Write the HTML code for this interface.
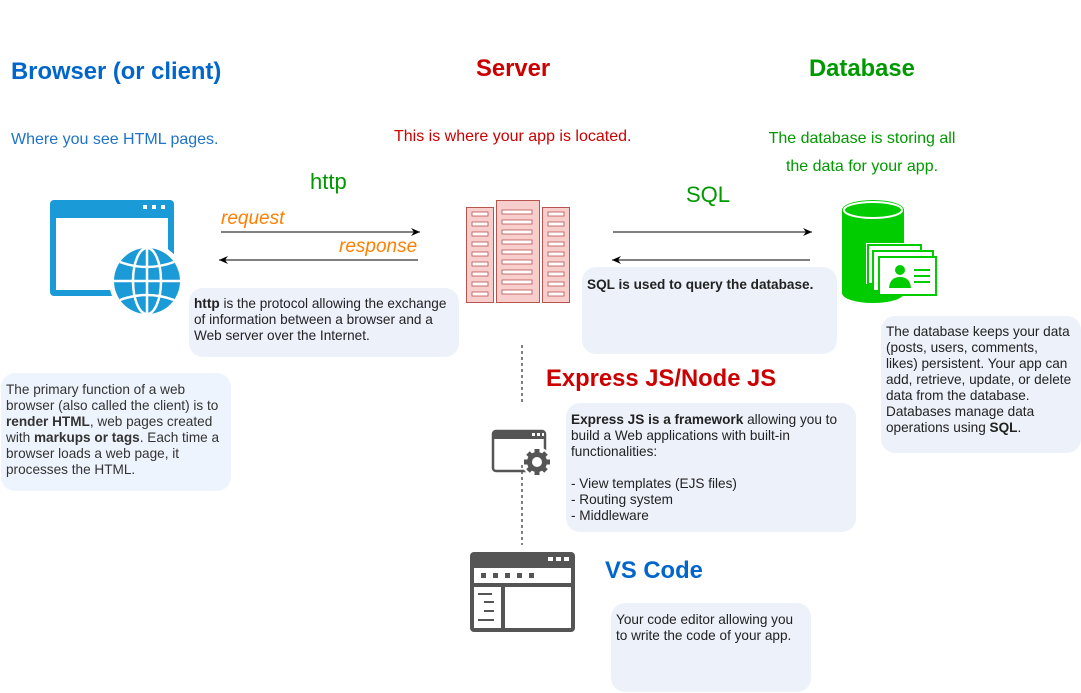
<!DOCTYPE html>
<html><head><meta charset="utf-8"><style>
body{margin:0;width:1081px;height:693px;background:#fff;position:relative;overflow:hidden;font-family:"Liberation Sans",Arial,sans-serif;}
.a{position:absolute;white-space:nowrap}
.t{position:absolute;font-size:16px}
.h{position:absolute;font-weight:bold;font-size:23.8px;white-space:nowrap}
.box{position:absolute;background:#edf1fa;border-radius:14px;font-size:13.6px;line-height:16px;color:#222;box-sizing:border-box;padding:6px 5px}
</style></head><body>
<div class="h" style="left:11px;top:58px;color:#0066cc">Browser (or client)</div>
<div class="t" style="left:11px;top:131px;color:#1f73c8">Where you see HTML pages.</div>
<div class="h" style="left:476px;top:55px;color:#cc0000">Server</div>
<div class="t a" style="left:394px;top:128px;color:#cc0000">This is where your app is located.</div>
<div class="h" style="left:809px;top:55px;color:#009900">Database</div>
<div class="t" style="left:750px;top:125px;width:224px;text-align:center;color:#009900;line-height:28px">The database is storing all<br>the data for your app.</div>
<div class="a" style="left:310px;top:169px;font-size:22px;color:#009900">http</div>
<div class="a" style="left:686px;top:182px;font-size:22px;color:#009900">SQL</div>
<div class="a" style="left:221px;top:208px;font-size:19px;font-style:italic;color:#ff8000">request</div>
<div class="a" style="left:339px;top:236px;font-size:19px;font-style:italic;color:#ff8000">response</div>
<svg style="position:absolute;left:0;top:0" width="1081" height="693">
<defs><marker id="m" markerWidth="10" markerHeight="8" refX="9" refY="4" orient="auto"><path d="M0,0L9,4L0,8L3,4Z" fill="#000"/></marker></defs>
<line x1="221" y1="232" x2="420" y2="232" stroke="#000" marker-end="url(#m)"/>
<line x1="418" y1="260" x2="219" y2="260" stroke="#000" marker-end="url(#m)"/>
<line x1="613" y1="232" x2="812" y2="232" stroke="#000" marker-end="url(#m)"/>
<line x1="810" y1="260" x2="612" y2="260" stroke="#000" marker-end="url(#m)"/>
<line x1="522" y1="345" x2="522" y2="402" stroke="#000" stroke-dasharray="3,3"/>
<line x1="522" y1="465" x2="522" y2="545" stroke="#000" stroke-dasharray="3,3"/>
<rect x="50" y="200" width="124" height="96" rx="4" fill="#1a9ad6"/>
<rect x="56" y="218" width="112" height="72" fill="#fff"/>
<rect x="143" y="205" width="4" height="4" fill="#fff"/><rect x="152" y="205" width="4" height="4" fill="#fff"/><rect x="161" y="205" width="4" height="4" fill="#fff"/>
<circle cx="147" cy="281" r="38" fill="#fff"/>
<circle cx="147" cy="281" r="33" fill="#1a9ad6"/>
<g stroke="#fff" stroke-width="2.5" fill="none"><ellipse cx="147" cy="281" rx="14" ry="33"/><line x1="147" y1="248" x2="147" y2="314"/><line x1="114" y1="281" x2="180" y2="281"/><path d="M120,262Q147,272 174,262"/><path d="M120,300Q147,290 174,300"/></g>
<g fill="#f8cecc" stroke="#b85450"><rect x="466.5" y="207.5" width="27" height="95"/><rect x="496.5" y="200.5" width="43" height="102"/><rect x="542.5" y="207.5" width="27" height="95"/></g>
<g fill="#fff" stroke="#b85450" stroke-width="0.8">
<g id="r"><rect x="472" y="212" width="16" height="4"/><rect x="472" y="222" width="16" height="4"/><rect x="472" y="232" width="16" height="4"/><rect x="472" y="242" width="16" height="4"/><rect x="472" y="252" width="16" height="4"/><rect x="472" y="262" width="16" height="4"/><rect x="472" y="272" width="16" height="4"/><rect x="472" y="282" width="16" height="4"/><rect x="472" y="292" width="16" height="4"/></g>
<use href="#r" x="76"/>
<rect x="502" y="210" width="30" height="4"/><rect x="502" y="220" width="30" height="4"/><rect x="502" y="230" width="30" height="4"/><rect x="502" y="240" width="30" height="4"/><rect x="502" y="250" width="30" height="4"/><rect x="502" y="260" width="30" height="4"/><rect x="502" y="270" width="30" height="4"/><rect x="502" y="280" width="30" height="4"/><rect x="502" y="290" width="30" height="4"/>
</g>
<path d="M842,210 A31,10 0 0 1 904,210 L904,293 A31,10 0 0 1 842,293Z" fill="#00cc00"/>
<ellipse cx="873" cy="210" rx="29" ry="8" fill="none" stroke="#fff" stroke-width="2"/>
<rect x="866" y="243" width="55" height="41" fill="#fff"/>
<rect x="868" y="245" width="53" height="39" fill="none" stroke="#00cc00" stroke-width="2"/>
<rect x="873" y="251" width="60" height="40" fill="#fff" stroke="#00cc00" stroke-width="2"/>
<rect x="879" y="257" width="57" height="38" fill="#fff" stroke="#00cc00" stroke-width="2"/>
<circle cx="900" cy="270" r="5" fill="#00cc00"/><path d="M889,288Q890,277 900,277Q910,277 911,288Z" fill="#00cc00"/>
<rect x="914" y="269" width="16" height="2" fill="#00cc00"/><rect x="914" y="275" width="16" height="2" fill="#00cc00"/><rect x="914" y="281" width="16" height="2" fill="#00cc00"/>
<rect x="493" y="431" width="52" height="40" rx="3" fill="none" stroke="#555" stroke-width="2.5"/>
<rect x="493" y="431" width="52" height="8" fill="#555"/>
<rect x="532" y="433" width="3" height="3" fill="#fff"/><rect x="537" y="433" width="3" height="3" fill="#fff"/><rect x="542" y="433" width="2" height="3" fill="#fff"/>
<circle cx="537" cy="462" r="15" fill="#fff"/>
<g fill="#555"><circle cx="537" cy="462" r="10"/><g stroke="#555" stroke-width="5"><line x1="537" y1="449" x2="537" y2="475"/><line x1="524" y1="462" x2="550" y2="462"/><line x1="528" y1="453" x2="546" y2="471"/><line x1="546" y1="453" x2="528" y2="471"/></g></g>
<circle cx="537" cy="462" r="5" fill="#fff"/>
<rect x="470" y="552" width="105" height="80" rx="4" fill="#555"/>
<rect x="474" y="568" width="97" height="15" fill="#fff"/>
<rect x="474" y="587" width="27" height="41" fill="#fff"/>
<rect x="505" y="587" width="66" height="41" fill="#fff"/>
<g fill="#fff"><rect x="548" y="557" width="5" height="4"/><rect x="556" y="557" width="5" height="4"/><rect x="564" y="557" width="5" height="4"/></g>
<g fill="#555"><rect x="481" y="573" width="5" height="5"/><rect x="493" y="573" width="5" height="5"/><rect x="505" y="573" width="5" height="5"/><rect x="517" y="573" width="5" height="5"/><rect x="529" y="573" width="5" height="5"/>
<rect x="478" y="593" width="14" height="2"/><rect x="484" y="601" width="10" height="2"/><rect x="484" y="610" width="10" height="2"/><rect x="478" y="619" width="16" height="2"/></g>
</svg>
<div class="box" style="left:189px;top:288px;width:270px;height:69px;padding-top:8px;padding-right:6px"><b>http</b> is the protocol allowing the exchange of information between a browser and a Web server over the Internet.</div>
<div class="box" style="left:1px;top:373px;width:230px;height:118px;background:#eef4fd;padding-top:9px;color:#333"><span>The primary function of a web browser (also called the client) is to <b>render HTML</b>, web pages created with <b>markups or tags</b>. Each time a browser loads a web page, it processes the HTML.</span></div>
<div class="box" style="left:582px;top:267px;width:255px;height:87px;padding-top:10px"><b>SQL is used to query the database.</b></div>
<div class="box" style="left:881px;top:316px;width:200px;height:137px;padding-top:8px;white-space:nowrap">The database keeps your data<br>(posts, users, comments,<br>likes) persistent. Your app can<br>add, retrieve, update, or delete<br>data from the database.<br>Databases manage data<br>operations using <b>SQL</b>.</div>
<div class="h" style="left:546px;top:365px;color:#cc0000">Express JS/Node JS</div>
<div class="box" style="left:566px;top:403px;width:290px;height:129px;padding-top:9px"><b>Express JS is a framework</b> allowing you to build a Web applications with built-in functionalities:<br><br>- View templates (EJS files)<br>- Routing system<br>- Middleware</div>
<div class="h" style="left:605px;top:557px;color:#0066cc">VS Code</div>
<div class="box" style="left:611px;top:603px;width:200px;height:89px;padding-top:9px;white-space:nowrap">Your code editor allowing you<br>to write the code of your app.</div>
</body></html>
